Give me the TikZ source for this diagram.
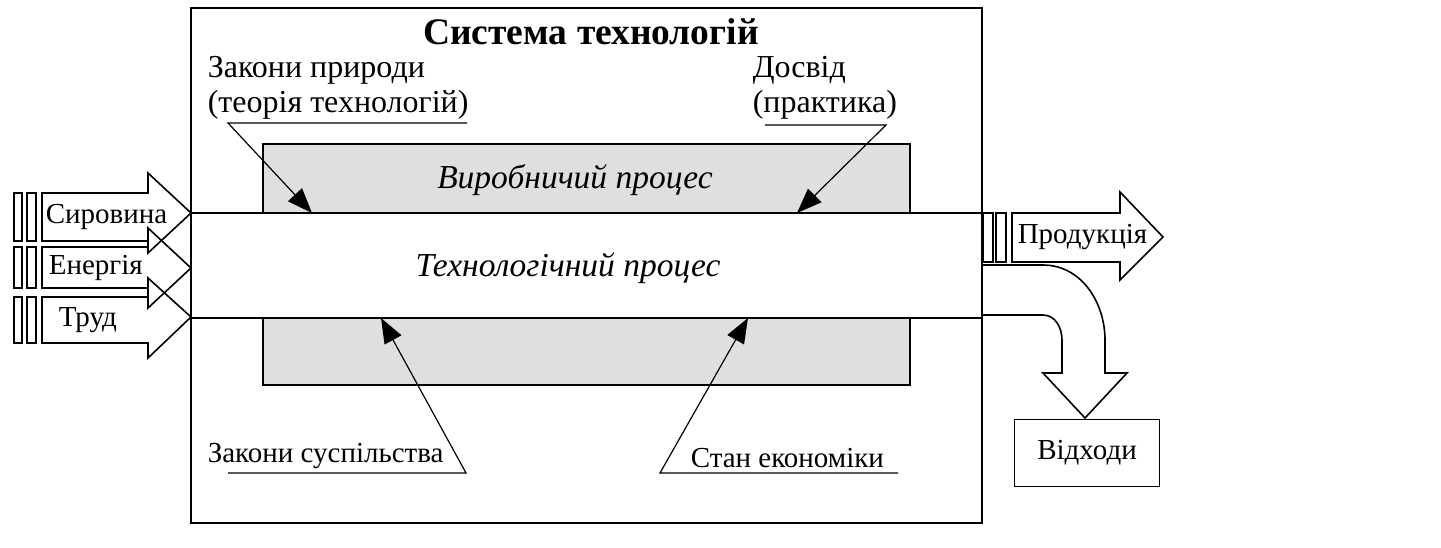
\documentclass[tikz,border=0pt]{standalone}
\usepackage{fontspec}
\setmainfont{Liberation Serif}
\usepackage{tikz}
\usetikzlibrary{arrows.meta}

\begin{document}
\begin{tikzpicture}[x=1pt,y=-1pt,line width=1.6pt,
    every node/.style={inner sep=0pt,font=\fontsize{32}{35}\selectfont},
    small/.style={font=\fontsize{29}{31}\selectfont},
    proc/.style={font=\fontsize{33.5}{35}\selectfont\itshape},
    pointer/.style={line width=1.2pt,-{Triangle[length=25pt,width=19pt]}}]
    \useasboundingbox (0,0) rectangle (1441,547);
    % system box, production and technology process
    \draw (191,8) rectangle (982,523);
    \draw[fill=gray!25] (263,144) rectangle (910,385);
    \draw[fill=white] (191,213) rectangle (982,318);
    \node[font=\fontsize{37.5}{40}\selectfont\bfseries,anchor=base] (sys) at (591,44) {Система технологій};
    \node[proc] (prod) at (575,180) {Виробничий процес};
    \node[proc] (tech) at (568,268) {Технологічний процес};
    % factors
    \node[anchor=base west,align=left] (nature) at (207,112) {Закони природи\\(теорія технологій)};
    \node[anchor=base west,align=left] (exper) at (752,112) {Досвід\\(практика)};
    \node[small,anchor=base west] (society) at (207,462) {Закони суспільства};
    \node[small,anchor=base west] (econ) at (690,467) {Стан економіки};
    \coordinate (natA) at (467,123); \coordinate (natB) at (228,123); \coordinate (natC) at (312,213);
    \coordinate (expA) at (765,125); \coordinate (expB) at (886,125); \coordinate (expC) at (797,213);
    \coordinate (socA) at (228,473); \coordinate (socB) at (466,473); \coordinate (socC) at (381,318);
    \coordinate (ecoA) at (898,473); \coordinate (ecoB) at (660,473); \coordinate (ecoC) at (748,318);
    \draw[pointer] (natA) -- (natB) -- (natC);
    \draw[pointer] (expA) -- (expB) -- (expC);
    \draw[pointer] (socA) -- (socB) -- (socC);
    \draw[pointer] (ecoA) -- (ecoB) -- (ecoC);
    % inputs
    \draw (14,193) rectangle (22,241) (27,193) rectangle (36,241);
    \draw (42,193) -- (148,193) -- (148,173) -- (191,213) -- (148,253) -- (148,241) -- (42,241) -- cycle;
    \draw (14,247) rectangle (22,288) (27,247) rectangle (36,288);
    \draw (42,247) -- (148,247) -- (148,228) -- (191,268) -- (148,308) -- (148,288) -- (42,288) -- cycle;
    \draw (14,297) rectangle (22,343) (27,297) rectangle (36,343);
    \draw (42,297) -- (148,297) -- (148,278) -- (191,317) -- (148,358) -- (148,343) -- (42,343) -- cycle;
    \node[small,anchor=west] (raw) at (45,217) {Сировина};
    \node[small,anchor=west] (energy) at (48,268) {Енергія};
    \node[small,anchor=west] (labour) at (58,320) {Труд};
    % outputs
    \draw (983,213) rectangle (993,262) (996,213) rectangle (1006,262);
    \draw (1012,213) -- (1120,213) -- (1120,192) -- (1163,237) -- (1120,280) -- (1120,262) -- (1012,262) -- cycle;
    \node[small,anchor=west] (goods) at (1017,237) {Продукція};
    \draw (982,265) -- (1043,265) to[out=0,in=90] (1105,340) -- (1105,373) -- (1127,373)
      -- (1085,418) -- (1043,373) -- (1062,373) -- (1062,340) to[out=90,in=0] (1043,315) -- (982,315);
    \node[small,draw,minimum width=145pt,minimum height=67pt] (waste) at (1087,453) {Відходи};
\end{tikzpicture}
\end{document}
